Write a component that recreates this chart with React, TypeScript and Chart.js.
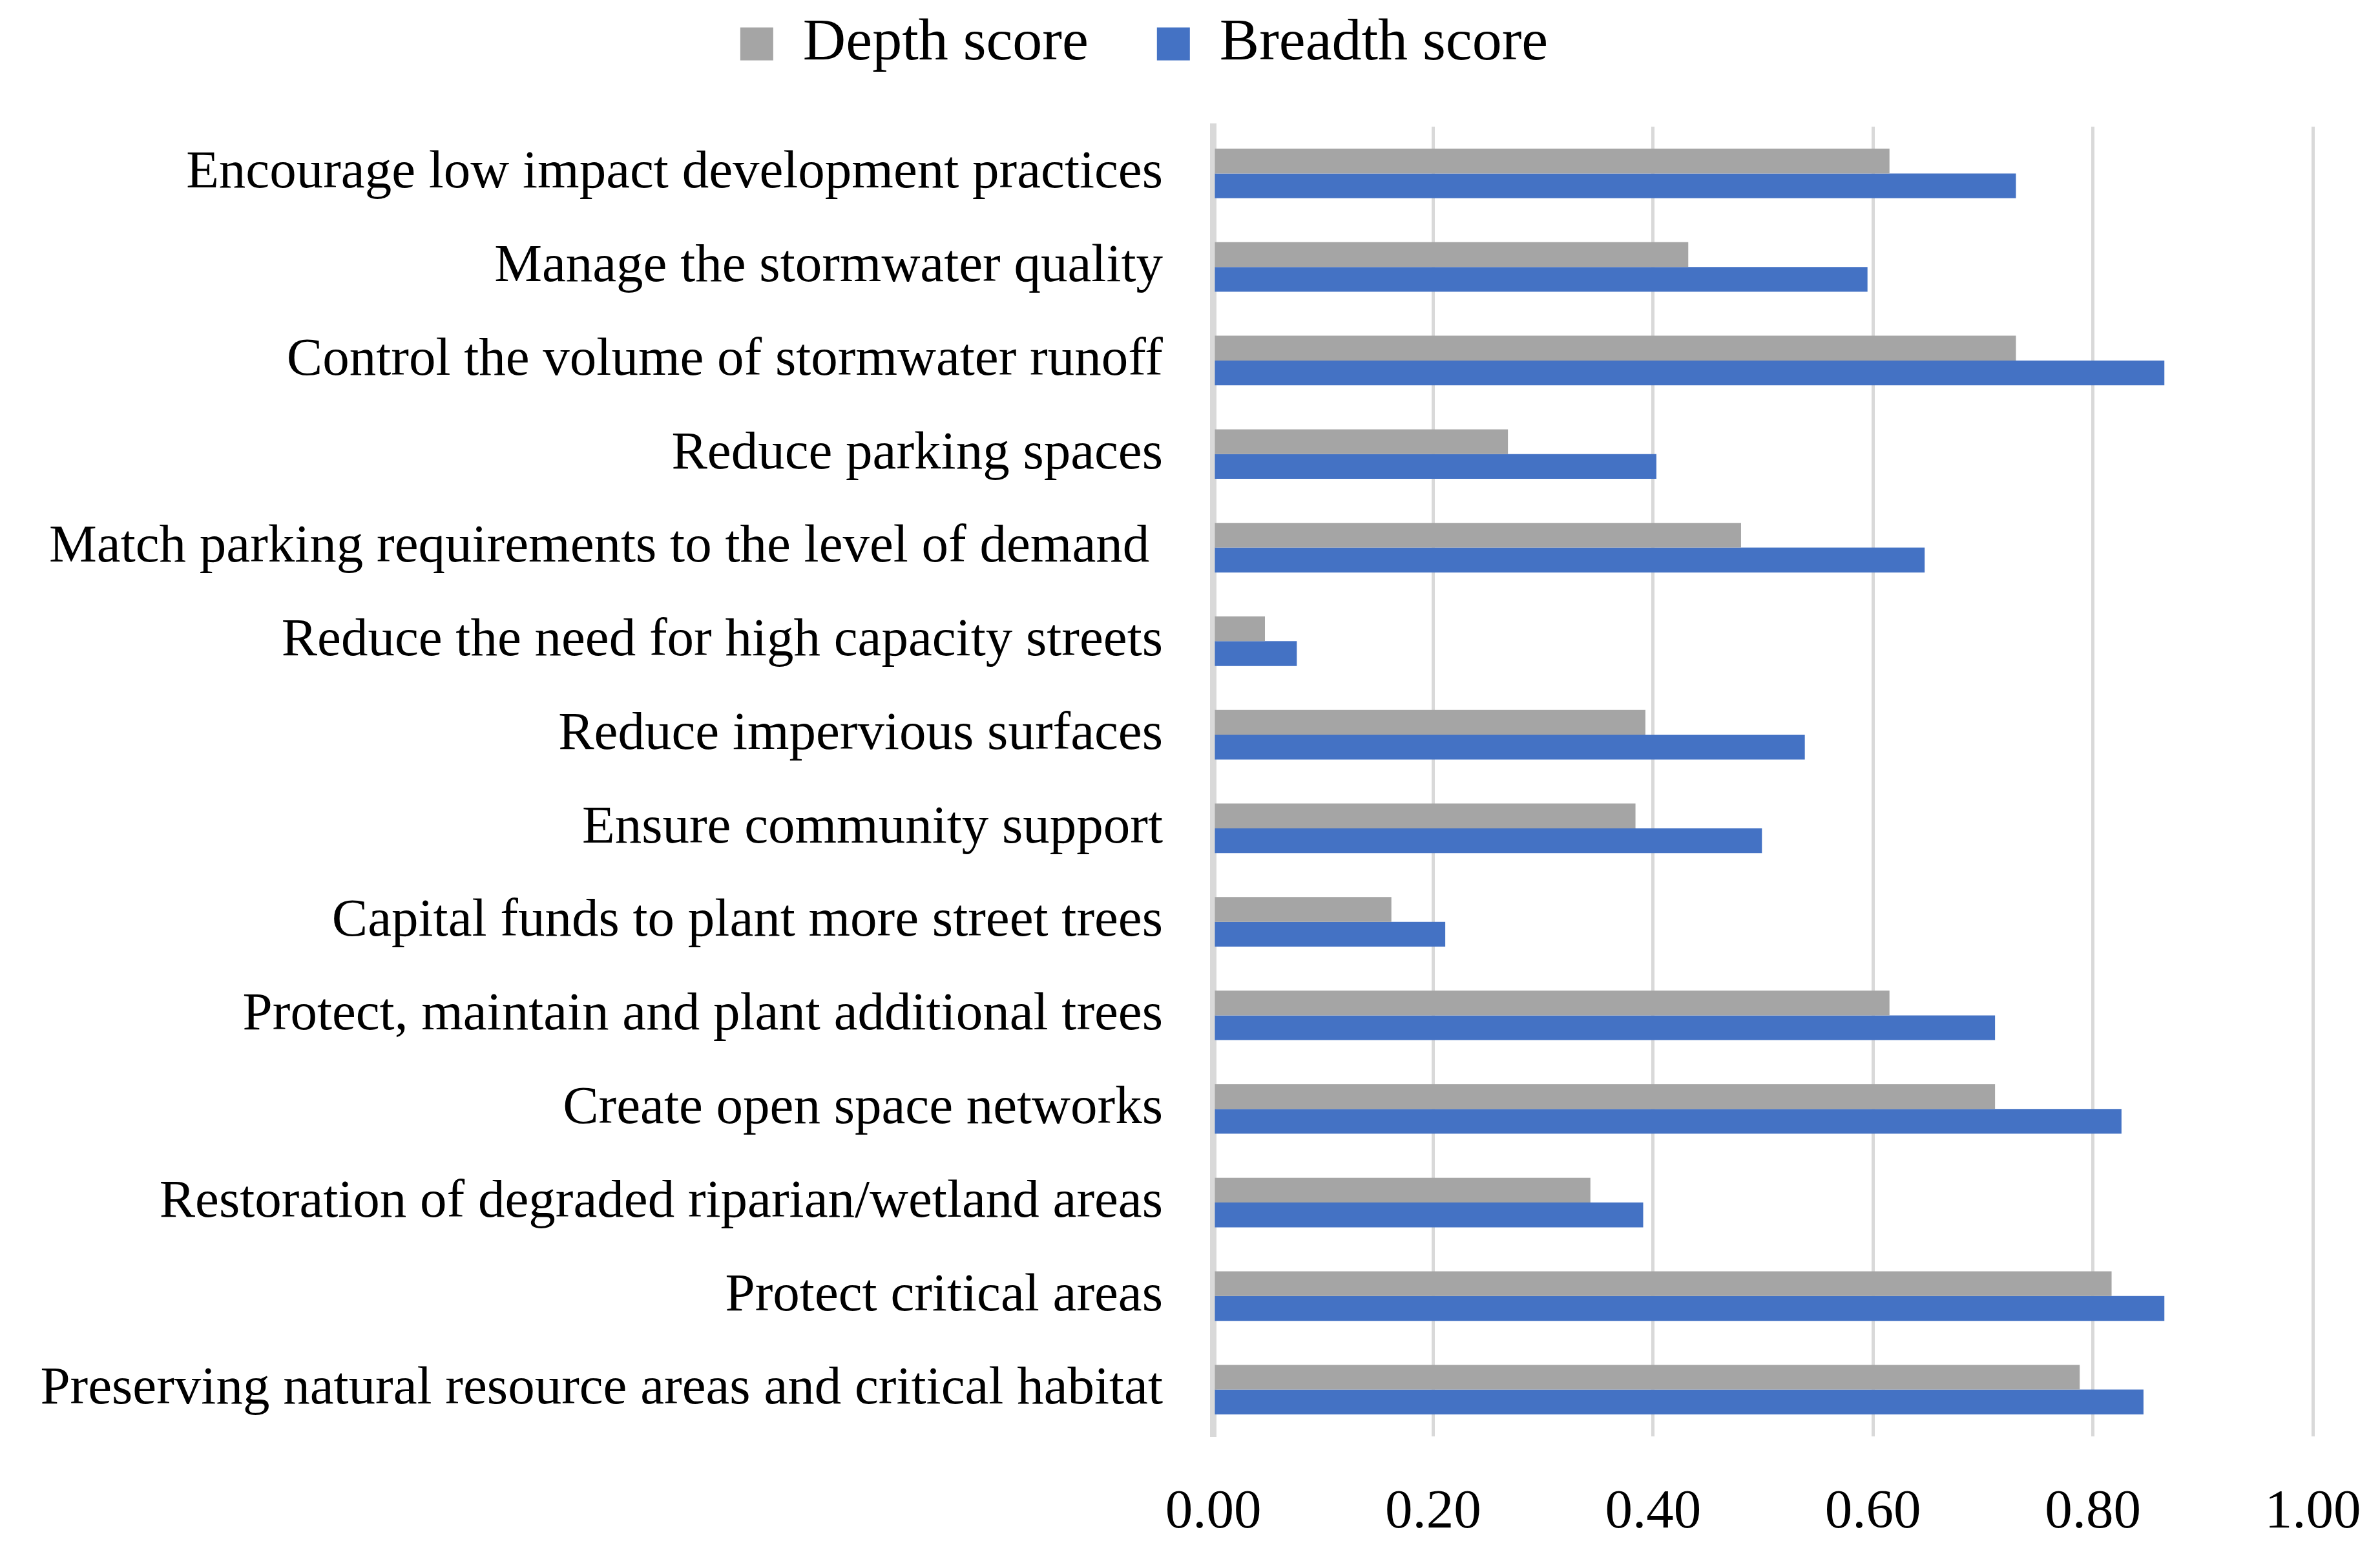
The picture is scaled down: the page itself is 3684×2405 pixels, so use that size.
import React, { useEffect, useRef } from "react";
import { Chart, registerables } from "chart.js";

Chart.register(...registerables);

const categories: string[] = [
  "Encourage low impact development practices",
  "Manage the stormwater quality",
  "Control the volume of stormwater runoff",
  "Reduce parking spaces",
  "Match parking requirements to the level of demand ",
  "Reduce the need for high capacity streets",
  "Reduce impervious surfaces",
  "Ensure community support",
  "Capital funds to plant more street trees",
  "Protect, maintain and plant additional trees",
  "Create open space networks",
  "Restoration of degraded riparian/wetland areas",
  "Protect critical areas",
  "Preserving natural resource areas and critical habitat",
];

const depthScore: number[] = [0.615, 0.432, 0.73, 0.268, 0.48, 0.047, 0.393, 0.384, 0.162, 0.615, 0.711, 0.343, 0.817, 0.788];
const breadthScore: number[] = [0.73, 0.595, 0.865, 0.403, 0.647, 0.076, 0.538, 0.499, 0.211, 0.711, 0.826, 0.391, 0.865, 0.846];

const seriesNames: string[] = ["Depth score", "Breadth score"];
const xMin = 0;
const xMax = 1;
const xStep = 0.2;

const FONT = "'Liberation Serif', 'Times New Roman', serif";

export default function App() {
  const canvasRef = useRef<HTMLCanvasElement | null>(null);

  useEffect(() => {
    const canvas = canvasRef.current;
    if (!canvas) return;
    const legendMargin = {
      id: "legendMargin",
      beforeInit(chart: any) {
        const legend = chart.legend;
        if (!legend) return;
        const origFit = legend.fit;
        legend.fit = function () {
          origFit.bind(legend)();
          this.height += 72;
        };
      },
    };
    const chart = new Chart(canvas, {
      type: "bar",
      data: {
        labels: categories,
        datasets: [
          {
            label: seriesNames[0],
            data: depthScore,
            backgroundColor: "#A5A5A5",
            categoryPercentage: 0.53,
            barPercentage: 1.0,
          },
          {
            label: seriesNames[1],
            data: breadthScore,
            backgroundColor: "#4472C4",
            categoryPercentage: 0.53,
            barPercentage: 1.0,
          },
        ],
      },
      options: {
        indexAxis: "y",
        animation: false,
        responsive: true,
        maintainAspectRatio: false,
        layout: { padding: { top: 0, right: 96, bottom: 0, left: 0 } },
        plugins: {
          legend: {
            position: "top",
            labels: {
              font: { family: FONT, size: 92 },
              color: "#000000",
              boxWidth: 51,
              boxHeight: 51,
              padding: 14,
              generateLabels: (chart: any) => {
                const items = (Chart.defaults.plugins.legend.labels as any).generateLabels(chart);
                return items.map((it: any, i: number) =>
                  i === 0
                    ? { ...it, text: it.text + "    " }
                    : { ...it, text: it.text + "  " }
                );
              },
            },
          },
          tooltip: { enabled: false },
        },
        scales: {
          x: {
            min: xMin,
            max: xMax,
            ticks: {
              stepSize: xStep,
              padding: 4,
              font: { family: FONT, size: 85 },
              color: "#000000",
              callback: (v: any) => Number(v).toFixed(2),
            },
            grid: {
              color: "#D9D9D9",
              lineWidth: 5,
              drawTicks: true,
              tickLength: 64,
              tickColor: "rgba(0,0,0,0)",
            },
            border: { display: false },
          },
          y: {
            afterFit: (scale: any) => {
              scale.width = 1870;
            },
            ticks: {
              padding: 4,
              font: { family: FONT, size: 83 },
              color: "#000000",
            },
            grid: {
              display: true,
              drawOnChartArea: false,
              drawTicks: true,
              tickLength: 74,
              tickColor: "rgba(0,0,0,0)",
              color: "rgba(0,0,0,0)",
            },
            border: { display: true, color: "#D9D9D9", width: 10 },
          },
        },
      },
      plugins: [legendMargin],
    } as any);
    return () => chart.destroy();
  }, []);

  return (
    <div style={{ width: 3668, height: 2389, position: "relative" }}>
      <canvas ref={canvasRef} />
    </div>
  );
}
